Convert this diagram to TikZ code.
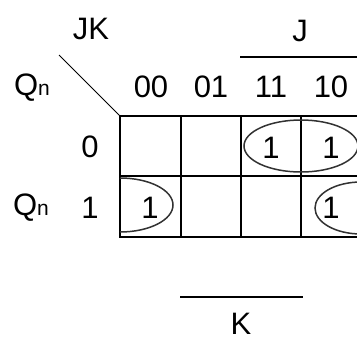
\documentclass[tikz,border=0pt]{standalone}
\usepackage{fontspec}
\setmainfont{Liberation Sans}
\usetikzlibrary{positioning,calc}
\tikzset{>=latex}
\definecolor{loopgray}{RGB}{50,50,50}
\tikzset{
  lbl/.style={inner sep=0pt,font=\fontsize{31}{32}\selectfont},
  cellline/.style={line width=1.5pt,black},
  loopline/.style={line width=1.5pt,loopgray},
}
\newcommand{\Qsub}{Q{\fontsize{21}{21}\selectfont n}}

\begin{document}
\begin{tikzpicture}[x=1pt,y=-1pt]
    \clip (0,0) rectangle (357,341);
    \begin{scope}
        % corner labels
        \node[lbl] (jk) at (91,29) {JK};
        \node[lbl] (qtop) at (32,88) {\Qsub};
        \coordinate (diagstart) at (59,55);
        \coordinate (corner) at (120,116);
        \draw [line width=1pt] (diagstart) -- (corner);
        % column labels
        \node[lbl] (c00) at (151,87) {00};
        \node[lbl] (c01) at (211,87) {01};
        \node[lbl] (c11) at (271,87) {11};
        \node[lbl] (c10) at (331,87) {10};
        % row labels
        \node[lbl] (r0) at (90,147) {0};
        \node[lbl] (r1) at (90,208) {1};
        \node[lbl] (qbot) at (31,208) {\Qsub};
        % J and K bars
        \coordinate (jl) at (240,57);
        \coordinate (jr) at (362,57);
        \draw [line width=1.3pt] (jl) -- (jr);
        \node[lbl] (j) at (300,31) {J};
        \coordinate (kl) at (180,297);
        \coordinate (kr) at (303,297);
        \draw [line width=1.3pt] (kl) -- (kr);
        \node[lbl] (k) at (241,324) {K};
        % map cells
        \draw [cellline] (corner) rectangle (361,237);
        \draw [cellline] (120,176) -- (361,176);
        \foreach \x in {181,241,301}
            \draw [cellline] (\x,116) -- (\x,237);
        % ones
        \node[lbl] (m3) at (271,148) {1};
        \node[lbl] (m2) at (331,148) {1};
        \node[lbl] (m4) at (150,208) {1};
        \node[lbl] (m6) at (331,208) {1};
        % groups
        \draw [loopline] (301,146) ellipse [x radius=57pt, y radius=26pt];
        \draw [loopline] (120,178) arc [start angle=90, end angle=-90, x radius=53pt, y radius=27pt];
        \draw [loopline] (361,208) ellipse [x radius=46pt, y radius=26pt];
    \end{scope}
\end{tikzpicture}
\end{document}
